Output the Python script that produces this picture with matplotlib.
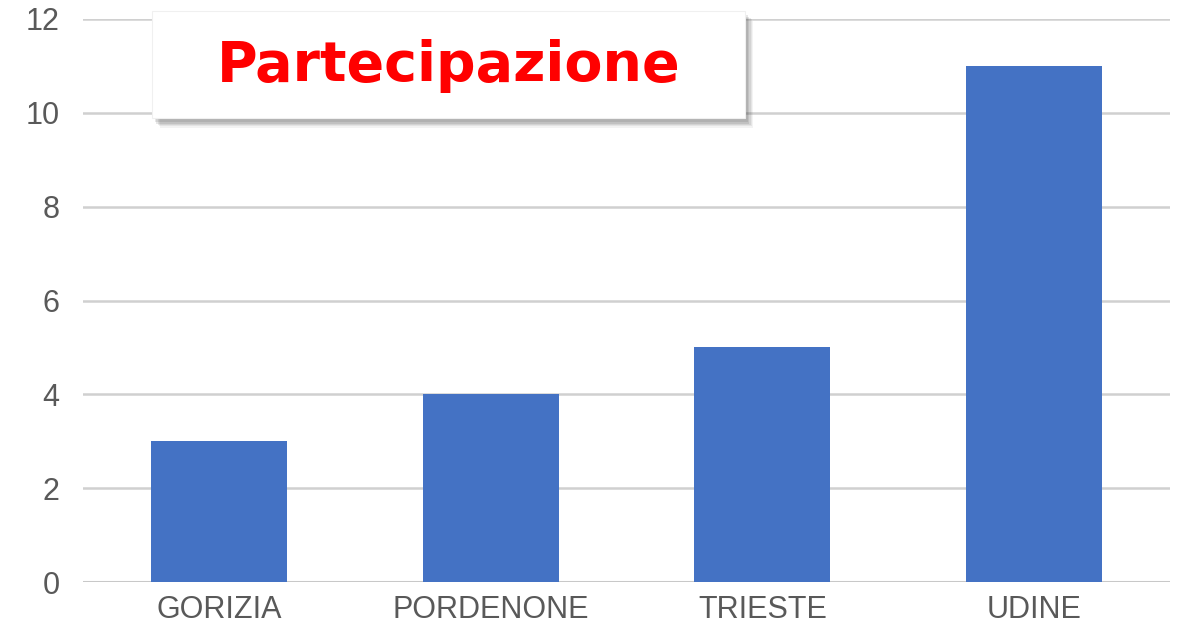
import matplotlib
matplotlib.use('Agg')
import matplotlib.pyplot as plt
import matplotlib.patheffects as pe
from matplotlib.patches import Rectangle

# data
cities = ['GORIZIA', 'PORDENONE', 'TRIESTE', 'UDINE']
partecipanti = [3, 4, 5, 11]
y_ticks = [0, 2, 4, 6, 8, 10, 12]
title = 'Partecipazione'

W, H = 1183, 626
fig = plt.figure(figsize=(W / 100, H / 100), dpi=100)
ax = fig.add_axes([83 / W, 1 - 582 / H, (1170 - 83) / W, (582 - 19) / H])

x = range(len(cities))
ax.bar(x, partecipanti, width=0.5, color='#4472C4', zorder=3)
ax.set_xlim(-0.5, len(cities) - 0.5)
ax.set_ylim(0, 12)
ax.set_yticks(y_ticks)
ax.set_xticks(list(x))
ax.set_xticklabels(cities)

ax.grid(axis='y', color='#d0d0d0', linewidth=1.8, zorder=0)
ax.axhline(0, color='#c8c8c8', linewidth=2.2, zorder=2)
for s in ax.spines.values():
    s.set_visible(False)
ax.tick_params(length=0, labelsize=22, colors='#595959')
ax.tick_params(axis='y', pad=17)
ax.tick_params(axis='x', pad=9)
for lbl in ax.get_xticklabels() + ax.get_yticklabels():
    lbl.set_fontfamily('Liberation Sans')

# title box with soft drop shadow (a few stacked shadows fake the blur)
box = Rectangle((152 / W, 1 - 118 / H), (745 - 152) / W, (118 - 11) / H,
                transform=fig.transFigure, facecolor='white', edgecolor='#f0f0f0',
                linewidth=0.8, zorder=5)
shadows = [pe.SimplePatchShadow(offset=(o, -o - 1), shadow_rgbFace='#404040', alpha=a)
           for o, a in [(6, 0.06), (5, 0.08), (4, 0.1), (3, 0.12), (2, 0.12)]]
box.set_path_effects(shadows + [pe.Normal()])
fig.patches.append(box)
fig.text(449 / W, 1 - 66 / H, title, color='#ff0000', fontsize=40, fontweight='bold',
         family='DejaVu Sans', ha='center', va='center', zorder=6)

plt.savefig('out.png', dpi=100)
